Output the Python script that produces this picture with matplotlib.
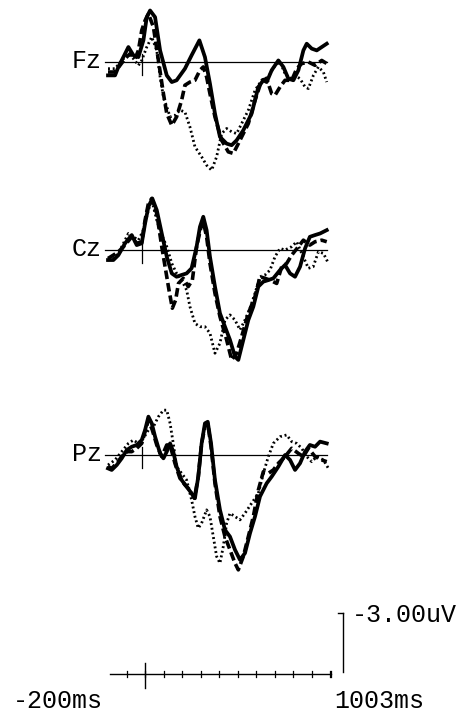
import numpy as np
import matplotlib.pyplot as plt

# ERP grand averages (ms, uV; negative plotted up)
fz_solid = [(-200, 0.68), (-162, 0.68), (-144, 0.25), (-117, -0.25), (-90, -0.76), (-63, -0.34),
            (-36, -0.25), (-9, -1.10), (9, -2.28), (27, -2.62), (54, -2.28), (81, -0.59),
            (117, 0.68), (144, 1.02), (170, 0.93), (215, 0.34), (251, -0.34), (293, -1.10),
            (323, -0.25), (350, 1.10), (377, 2.62), (404, 3.81), (440, 4.15), (467, 4.23),
            (494, 3.98), (530, 3.47), (575, 2.62), (611, 1.27), (638, 0.93), (656, 1.02),
            (683, 0.42), (719, -0.08), (746, 0.25), (773, 0.85), (800, 0.93), (827, 0.42),
            (854, -0.59), (872, -0.93), (899, -0.68), (926, -0.59), (953, -0.76), (980, -0.93)]
fz_dashed = [(-200, 0.51), (-162, 0.51), (-135, 0.17), (-108, -0.17), (-81, -0.42), (-54, -0.17),
             (-36, -0.59), (-18, -1.61), (0, -2.11), (18, -2.45), (45, -1.78), (72, -0.08),
             (99, 1.61), (117, 2.62), (144, 3.22), (170, 2.79), (197, 1.95), (215, 1.18),
             (242, 1.02), (269, 0.93), (296, 0.42), (314, 0.25), (332, 0.76), (350, 1.61),
             (377, 2.79), (413, 3.98), (449, 4.57), (476, 4.65), (503, 4.15), (530, 3.64),
             (557, 3.13), (593, 1.95), (629, 0.93), (656, 0.85), (683, 1.61), (701, 1.69),
             (728, 1.27), (755, 0.93), (791, 0.93), (818, 0.34), (845, 0.08), (881, 0.00),
             (917, 0.17), (953, -0.08), (980, 0.08)]
fz_dotted = [(-200, 0.34), (-162, 0.34), (-126, -0.08), (-90, -0.42), (-63, -0.17), (-36, 0.17),
             (-18, -0.08), (9, -0.76), (36, -1.27), (63, -0.59), (81, 0.76), (99, 1.78),
             (117, 2.28), (135, 2.79), (162, 2.71), (188, 2.45), (215, 2.54), (242, 3.30),
             (269, 4.31), (305, 4.82), (332, 5.25), (359, 5.50), (386, 4.82), (413, 3.64),
             (440, 3.38), (467, 3.55), (494, 3.64), (521, 3.13), (557, 2.45), (593, 1.44),
             (629, 0.93), (665, 0.76), (701, 0.17), (728, 0.00), (755, 0.59), (782, 0.85),
             (809, 0.68), (836, 0.85), (863, 1.27), (881, 1.35), (908, 0.68), (935, 0.25),
             (962, 0.51), (980, 1.02)]

cz_solid = [(-200, 0.51), (-171, 0.51), (-144, 0.26), (-108, -0.34), (-72, -0.76), (-45, -0.25),
            (-18, -0.34), (0, -1.35), (18, -2.20), (39, -2.62), (63, -2.03), (90, -0.84),
            (117, 0.34), (144, 1.19), (170, 1.36), (197, 1.27), (224, 1.19), (251, 0.93),
            (278, -0.17), (296, -1.18), (314, -1.69), (332, -1.01), (350, 0.34), (377, 1.86),
            (404, 3.22), (431, 3.90), (458, 4.57), (485, 5.42), (503, 5.59), (530, 4.57),
            (557, 3.56), (584, 2.88), (611, 1.86), (638, 1.61), (665, 1.53), (692, 1.44),
            (728, 1.02), (755, 0.76), (782, 1.19), (809, 1.36), (836, 0.85), (863, -0.08),
            (889, -0.67), (917, -0.76), (944, -0.84), (980, -1.01)]
cz_dashed = [(-200, 0.43), (-171, 0.26), (-144, 0.09), (-108, -0.25), (-72, -0.67), (-45, -0.34),
             (-18, -0.42), (0, -1.52), (18, -2.37), (36, -2.62), (63, -1.86), (90, -0.17),
             (111, 1.02), (129, 2.03), (147, 2.96), (165, 2.54), (180, 1.70), (206, 1.44),
             (233, 1.86), (255, 1.53), (278, -0.17), (302, -1.18), (314, -1.44), (332, -0.67),
             (350, 0.68), (377, 2.20), (404, 3.39), (440, 4.57), (467, 5.59), (494, 5.25),
             (521, 4.40), (557, 3.22), (593, 2.37), (620, 1.36), (647, 1.44), (674, 1.53),
             (710, 1.70), (737, 0.85), (764, 0.68), (791, 0.26), (827, -0.17), (854, -0.50),
             (889, -0.25), (917, -0.42), (953, -0.50), (980, -0.42)]
cz_dotted = [(-200, 0.51), (-171, 0.43), (-144, 0.17), (-108, -0.50), (-90, -0.84), (-63, -0.67),
             (-36, -0.50), (-9, -1.01), (18, -2.03), (36, -2.53), (63, -1.52), (90, -0.76),
             (117, -0.17), (144, 0.68), (170, 1.19), (197, 1.53), (224, 2.03), (242, 2.88),
             (269, 3.73), (296, 3.90), (323, 3.90), (350, 4.23), (377, 5.25), (404, 4.74),
             (431, 3.56), (458, 3.30), (485, 3.56), (512, 4.06), (539, 3.56), (566, 2.96),
             (593, 2.20), (620, 1.36), (647, 1.27), (674, 1.02), (701, 0.34), (728, -0.08),
             (755, 0.00), (791, -0.17), (818, -0.42), (845, 0.17), (881, 0.93), (907, 0.85),
             (935, 0.09), (962, 0.17), (989, 0.68)]

pz_solid = [(-200, 0.68), (-180, 0.76), (-153, 0.51), (-126, 0.17), (-99, -0.25), (-72, -0.42),
            (-45, -0.51), (-18, -0.76), (0, -1.27), (18, -1.95), (36, -1.61), (54, -0.93),
            (81, -0.08), (99, 0.17), (117, -0.17), (135, -0.59), (152, -0.17), (170, 0.59),
            (197, 1.27), (224, 1.61), (251, 1.95), (269, 2.20), (287, 1.10), (305, -0.59),
            (323, -1.61), (338, -1.69), (356, -0.59), (377, 1.27), (404, 2.79), (431, 3.81),
            (458, 4.15), (485, 4.82), (512, 5.33), (539, 4.99), (566, 3.98), (593, 3.13),
            (620, 2.11), (656, 1.44), (683, 1.10), (719, 0.59), (755, 0.00), (782, 0.25),
            (809, 0.76), (836, 0.42), (863, -0.17), (889, -0.51), (917, -0.42), (944, -0.68),
            (980, -0.59)]
pz_dashed = [(-200, 0.59), (-180, 0.68), (-153, 0.42), (-126, 0.08), (-99, -0.17), (-72, -0.17),
             (-45, -0.34), (-18, -0.59), (0, -1.19), (18, -1.78), (39, -1.27), (63, -0.51),
             (90, 0.08), (117, -0.51), (135, -0.51), (161, 0.42), (188, 1.18), (215, 1.52),
             (242, 1.78), (266, 2.20), (287, 1.10), (305, -0.59), (323, -1.44), (338, -1.61),
             (356, -0.42), (377, 1.44), (404, 3.13), (431, 4.15), (458, 4.82), (485, 5.50),
             (503, 5.84), (530, 5.16), (557, 4.15), (584, 3.13), (611, 1.78), (638, 0.85),
             (665, 0.93), (692, 0.76), (719, 0.42), (755, 0.08), (791, -0.34), (827, -0.08),
             (854, 0.08), (881, -0.34), (917, 0.08), (953, 0.25), (980, 0.34)]
pz_dotted = [(-200, 0.51), (-162, 0.25), (-126, -0.17), (-90, -0.59), (-63, -0.76), (-36, -0.59),
             (-9, -0.85), (18, -1.27), (45, -1.44), (72, -1.95), (99, -2.28), (117, -2.28),
             (135, -1.61), (152, -0.59), (170, 0.59), (197, 0.93), (224, 1.27), (251, 2.28),
             (269, 3.13), (287, 3.72), (305, 3.47), (332, 2.79), (350, 3.13), (368, 4.15),
             (386, 5.16), (404, 5.50), (422, 4.65), (440, 3.47), (458, 2.96), (485, 3.13),
             (512, 3.30), (539, 2.96), (575, 2.45), (611, 1.95), (638, 0.93), (665, 0.08),
             (692, -0.59), (728, -0.93), (764, -1.02), (791, -0.68), (818, -0.59), (845, -0.34),
             (872, 0.08), (899, 0.34), (926, 0.08), (962, 0.25), (989, 0.68)]

channels = ["Fz", "Cz", "Pz"]
t_start, t_end = -200, 1003
scale_uv = -3.00
tick_times = list(range(-100, 1001, 100))

# layout: one axes over the whole figure, ms on x, uV on y (stacked with offsets)
W, H = 469, 717
ms_per_px = (t_end - t_start) / (331 - 108)
uv_per_px = 3.0 / 59
fig = plt.figure(figsize=(W / 100, H / 100), dpi=100)
ax = fig.add_axes([0, 0, 1, 1])
ax.set_xlim(t_start - 108 * ms_per_px, t_end + (W - 331) * ms_per_px)
ax.set_ylim(H * uv_per_px, 0)
ax.axis("off")

offsets = [62 * uv_per_px, 250 * uv_per_px, 455 * uv_per_px]
panels = [(fz_solid, fz_dashed, fz_dotted), (cz_solid, cz_dashed, cz_dotted),
          (pz_solid, pz_dashed, pz_dotted)]
styles = [dict(ls="-", lw=2.7), dict(ls=(0, (2.4, 1.1)), lw=2.6), dict(ls=(0, (0.7, 1.0)), lw=2.0)]

for name, off, series in zip(channels, offsets, panels):
    ax.plot([-216, 982], [off, off], color="black", lw=0.9)
    ax.plot([-15, -15], [off - 8 * uv_per_px, off + 13 * uv_per_px], color="black", lw=0.9)
    for data, st in zip(series, styles):
        t = np.array([p[0] for p in data])
        v = np.array([p[1] for p in data])
        ax.plot(t, v + off, color="black", solid_joinstyle="round", dash_capstyle="butt",
                **st)
    ax.text(-216 - 3 * ms_per_px, off + 6 * uv_per_px, name, family="Liberation Mono",
            fontsize=18, ha="right", va="baseline")

# time scale
y_ax = 674 * uv_per_px
ax.plot([-189, t_end], [y_ax, y_ax], color="black", lw=1.0)
for tt in tick_times + [t_end]:
    ax.plot([tt, tt], [y_ax - 3 * uv_per_px, y_ax + 3 * uv_per_px], color="black", lw=0.9)
ax.plot([0, 0], [y_ax - 11 * uv_per_px, y_ax + 14 * uv_per_px], color="black", lw=1.0)

# amplitude scale bar
x_bar = t_end + 12 * ms_per_px
ax.plot([x_bar, x_bar], [672 * uv_per_px, 672 * uv_per_px + scale_uv], color="black", lw=1.0)
ax.plot([x_bar - 5 * ms_per_px, x_bar], [672 * uv_per_px + scale_uv] * 2, color="black", lw=1.0)
ax.text(x_bar + 9 * ms_per_px, 622 * uv_per_px, "%.2fuV" % scale_uv, family="Liberation Mono",
        fontsize=18, ha="left", va="baseline")
ax.text(t_start - 95 * ms_per_px, 708 * uv_per_px, "%dms" % t_start, family="Liberation Mono",
        fontsize=18, ha="left", va="baseline")
ax.text(t_end + 3 * ms_per_px, 708 * uv_per_px, "%dms" % t_end, family="Liberation Mono",
        fontsize=18, ha="left", va="baseline")

fig.savefig("out.png", dpi=100, facecolor="white")
